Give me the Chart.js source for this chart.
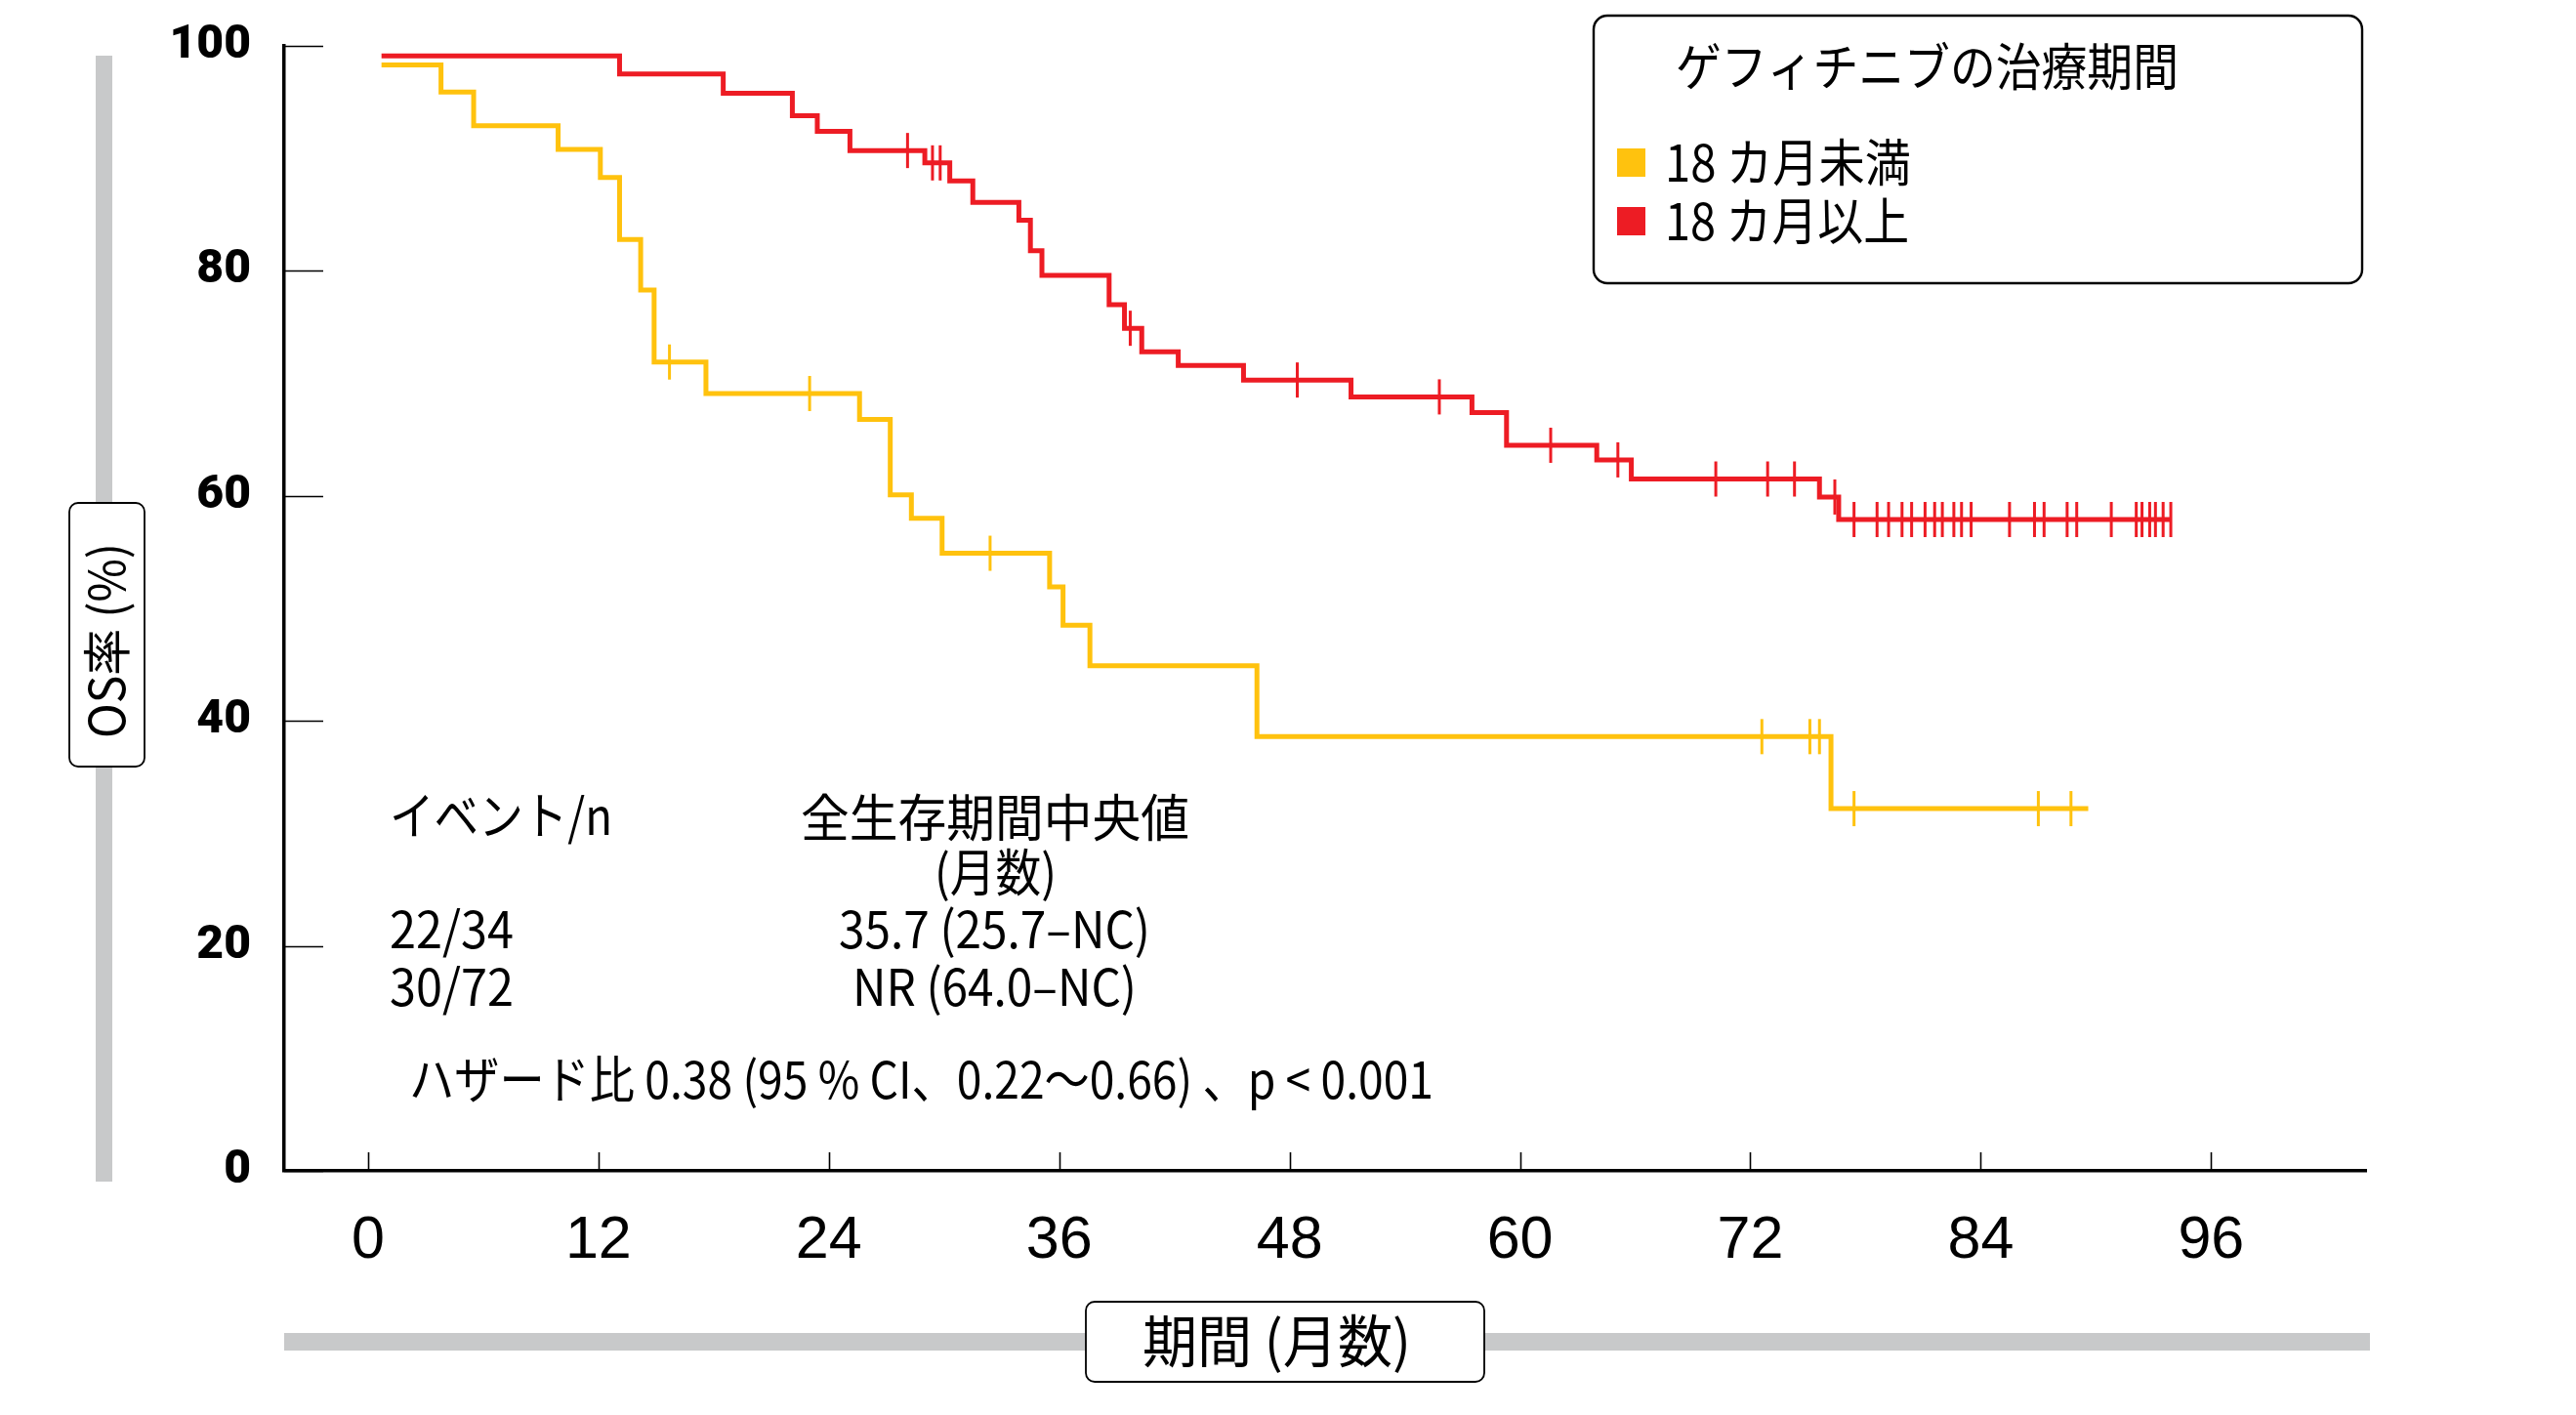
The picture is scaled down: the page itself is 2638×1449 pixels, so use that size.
<!DOCTYPE html>
<html lang="ja">
<head>
<meta charset="utf-8">
<title>ゲフィチニブの治療期間別 OS</title>
<script src="https://cdn.jsdelivr.net/npm/chart.js@4.4.1/dist/chart.umd.min.js"></script>
<style>
  html, body { margin: 0; padding: 0; background: #fff; }
  #wrap { position: relative; width: 2638px; height: 1449px; }
</style>
</head>
<body>
<div id="wrap"><canvas id="osChart"></canvas></div>
<script>
// 軸
const xTickValues = [0, 12, 24, 36, 48, 60, 72, 84, 96];
const yTickValues = [0, 20, 40, 60, 80, 100];

// 18 カ月未満 (イベント時点: 月, OS率: %)
const shortTimes = [0.7, 3.8, 5.5, 9.9, 12.1, 13.1, 14.2, 14.9, 17.6, 25.6, 27.2, 28.3, 29.9, 35.5, 36.2, 37.6, 46.3, 76.2, 89.6];
const shortSurv  = [98.3, 95.9, 92.9, 90.8, 88.3, 82.8, 78.3, 71.9, 69.1, 66.8, 60.1, 58.0, 54.9, 51.9, 48.5, 44.9, 38.6, 32.2, 32.2];
const shortCensor = [15.7, 23.0, 32.4, 72.6, 75.1, 75.6, 77.4, 87.0, 88.7];

// 18 カ月以上
const longTimes = [0.7, 13.1, 18.5, 22.1, 23.4, 25.1, 29.0, 30.3, 31.5, 33.9, 34.5, 35.1, 38.6, 39.4, 40.3, 42.2, 45.6, 51.2, 57.5, 59.3, 64.0, 65.8, 75.6, 76.6, 93.9];
const longSurv  = [99.1, 97.5, 95.8, 93.8, 92.4, 90.7, 89.6, 88.0, 86.1, 84.5, 81.8, 79.6, 77.0, 74.9, 72.8, 71.6, 70.3, 68.8, 67.4, 64.5, 63.2, 61.5, 59.9, 57.9, 57.9];
const longCensor = [28.1, 29.4, 29.8, 39.7, 48.4, 55.8, 61.6, 65.1, 70.2, 72.9, 74.3, 76.4,
    77.4, 78.6, 79.2, 79.9, 80.4, 81.1, 81.6, 82.0, 82.6, 83.0, 83.5, 85.5, 86.8, 87.3,
    88.5, 89.0, 90.8, 92.1, 92.4, 92.8, 93.1, 93.5, 93.9];

const seriesLabels = ['18 カ月未満', '18 カ月以上'];
const seriesColors = ['#FFC20E', '#ED1C24'];
const legendTitle = 'ゲフィチニブの治療期間';
const xTitle = '期間 (月数)';
const yTitle = 'OS率 (%)';
const statHeaders = ['イベント/n', '全生存期間中央値', '(月数)'];
const statEvents = ['22/34', '30/72'];
const statMedians = ['35.7 (25.7–NC)', 'NR (64.0–NC)'];
const hazardText = 'ハザード比 0.38 (95 % CI、0.22〜0.66) 、p < 0.001';

const JP = '"Noto Sans CJK JP", "Noto Sans", sans-serif';

function stepPoints(times, surv) {
    return times.map((t, i) => ({ x: t, y: surv[i] }));
}

// 打ち切り時点の曲線上の値
function censorPoints(times, surv, cens) {
    return cens.map(t => {
        let v = surv[0];
        for (let i = 0; i < times.length; i++) {
            if (times[i] <= t) v = surv[i];
        }
        return { x: t, y: v };
    });
}

// 横方向に詰めて幅に合わせる
function fitText(ctx, text, x0, x1, cy, size) {
    ctx.save();
    ctx.font = size + 'px ' + JP;
    const w = ctx.measureText(text).width;
    ctx.translate(x0, cy);
    ctx.scale((x1 - x0) / w, 1);
    ctx.textAlign = 'left';
    ctx.textBaseline = 'middle';
    ctx.fillStyle = '#000';
    ctx.fillText(text, 0, 0);
    ctx.restore();
}

function labelBox(ctx, x, y, w, h) {
    ctx.save();
    ctx.beginPath();
    ctx.roundRect(x, y, w, h, 9);
    ctx.fillStyle = '#fff';
    ctx.fill();
    ctx.lineWidth = 1.8;
    ctx.strokeStyle = '#000';
    ctx.stroke();
    ctx.restore();
}

const decorPlugin = {
    id: 'decor',
    afterDraw(chart) {
        const ctx = chart.ctx;
        const area = chart.chartArea;
        const xs = chart.scales.x;
        const ys = chart.scales.y;

        // 内向きの目盛り
        ctx.save();
        ctx.strokeStyle = '#000';
        ctx.lineWidth = 1.6;
        ctx.beginPath();
        yTickValues.forEach(v => {
            const py = Math.round(ys.getPixelForValue(v)) + 0.5;
            ctx.moveTo(area.left, py);
            ctx.lineTo(area.left + 40, py);
        });
        xTickValues.forEach(v => {
            const px = Math.round(xs.getPixelForValue(v)) + 0.5;
            ctx.moveTo(px, area.bottom);
            ctx.lineTo(px, area.bottom - 19);
        });
        ctx.stroke();
        ctx.restore();

        // 軸タイトルの帯
        ctx.save();
        ctx.fillStyle = '#C8C9CA';
        ctx.fillRect(98, 57, 17, 1153);
        ctx.fillRect(area.left, 1365, area.right - area.left + 4, 18);
        ctx.restore();

        labelBox(ctx, 71, 515, 77, 270);
        ctx.save();
        ctx.translate(109, 656);
        ctx.rotate(-Math.PI / 2);
        fitText(ctx, yTitle, -100, 100, 0, 50);
        ctx.restore();

        labelBox(ctx, 1112, 1333, 408, 82);
        fitText(ctx, xTitle, 1170, 1445, 1373, 58);

        // 凡例
        ctx.save();
        ctx.beginPath();
        ctx.roundRect(1632, 16, 787, 274, 14);
        ctx.lineWidth = 2.4;
        ctx.strokeStyle = '#000';
        ctx.stroke();
        ctx.restore();
        fitText(ctx, legendTitle, 1716, 2231, 68, 52);
        ctx.fillStyle = chart.data.datasets[0].borderColor;
        ctx.fillRect(1656, 152, 29, 29);
        ctx.fillStyle = chart.data.datasets[1].borderColor;
        ctx.fillRect(1656, 212, 29, 29);
        fitText(ctx, seriesLabels[0], 1705, 1957, 166, 52);
        fitText(ctx, seriesLabels[1], 1705, 1955, 226, 52);

        // 統計情報
        fitText(ctx, statHeaders[0], 399, 627, 835, 52);
        fitText(ctx, statHeaders[1], 820, 1218, 837, 52);
        fitText(ctx, statHeaders[2], 957, 1082, 893, 52);
        fitText(ctx, statEvents[0], 399, 526, 951, 52);
        fitText(ctx, statMedians[0], 859, 1178, 951, 52);
        fitText(ctx, statEvents[1], 399, 526, 1010, 52);
        fitText(ctx, statMedians[1], 873, 1164, 1010, 52);
        fitText(ctx, hazardText, 419, 1468, 1105, 52);
    }
};

function initOsChart() {
    const canvas = document.getElementById('osChart');
    if (!canvas || typeof Chart === 'undefined') {
        console.error('Chart.js またはキャンバスが見つかりません');
        return;
    }

    new Chart(canvas.getContext('2d'), {
        type: 'line',
        data: {
            datasets: [
                {
                    label: seriesLabels[0],
                    data: stepPoints(shortTimes, shortSurv),
                    borderColor: seriesColors[0],
                    borderWidth: 5,
                    stepped: 'before',
                    pointRadius: 0,
                    fill: false,
                    borderJoinStyle: 'miter',
                    order: 2
                },
                {
                    label: seriesLabels[1],
                    data: stepPoints(longTimes, longSurv),
                    borderColor: seriesColors[1],
                    borderWidth: 5,
                    stepped: 'before',
                    pointRadius: 0,
                    fill: false,
                    borderJoinStyle: 'miter',
                    order: 2
                },
                {
                    label: 'censor-short',
                    data: censorPoints(shortTimes, shortSurv, shortCensor),
                    showLine: false,
                    pointStyle: 'line',
                    rotation: 90,
                    pointRadius: 18,
                    borderColor: seriesColors[0],
                    borderWidth: 3,
                    order: 1
                },
                {
                    label: 'censor-long',
                    data: censorPoints(longTimes, longSurv, longCensor),
                    showLine: false,
                    pointStyle: 'line',
                    rotation: 90,
                    pointRadius: 18,
                    borderColor: seriesColors[1],
                    borderWidth: 3,
                    order: 1
                }
            ]
        },
        options: {
            responsive: true,
            maintainAspectRatio: false,
            animation: false,
            events: [],
            layout: {
                padding: { top: 47, right: 215, bottom: 0, left: 0 }
            },
            plugins: {
                legend: { display: false },
                tooltip: { enabled: false },
                title: { display: false }
            },
            scales: {
                x: {
                    type: 'linear',
                    min: -4.37,
                    max: 104.07,
                    afterBuildTicks: s => { s.ticks = xTickValues.map(v => ({ value: v })); },
                    afterFit: s => { s.height = 250; },
                    grid: { display: false, drawTicks: false },
                    border: { display: true, color: '#000', width: 3.5 },
                    ticks: {
                        autoSkip: false,
                        maxRotation: 0,
                        padding: 36,
                        color: '#000',
                        font: { family: '"Liberation Sans Narrow", "Liberation Sans", sans-serif', size: 61 }
                    }
                },
                y: {
                    type: 'linear',
                    min: 0,
                    max: 100,
                    afterBuildTicks: s => { s.ticks = yTickValues.map(v => ({ value: v })); },
                    afterFit: s => { s.width = 291; },
                    // 目盛り線は透明にして、ラベルの間隔だけに使う
                    grid: {
                        display: true,
                        drawOnChartArea: false,
                        drawTicks: true,
                        tickLength: 30,
                        tickColor: 'rgba(0,0,0,0)'
                    },
                    border: { display: true, color: '#000', width: 3.5 },
                    ticks: {
                        padding: 4,
                        color: '#000',
                        font: { family: 'Roboto, "Liberation Sans", sans-serif', size: 48, weight: '900' }
                    }
                }
            }
        },
        plugins: [decorPlugin]
    });
}

const fontLoads = [
    '52px "Noto Sans CJK JP"',
    '900 48px Roboto',
    '61px "Liberation Sans Narrow"'
].map(f => document.fonts.load(f).catch(() => null));
Promise.all(fontLoads).then(initOsChart, initOsChart);
</script>
</body>
</html>
